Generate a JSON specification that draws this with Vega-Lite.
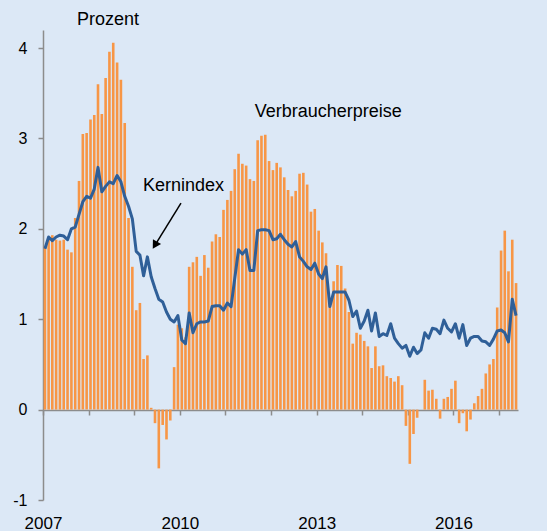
{
  "$schema": "https://vega.github.io/schema/vega-lite/v6.json",
  "autosize": {"type": "none"},
  "width": 475,
  "height": 470,
  "padding": {"left": 43, "top": 30, "right": 29, "bottom": 31},
  "background": "#dce8f6",
  "config": {"view": {"stroke": null}, "font": "Liberation Sans"},
  "datasets": {
    "m": [
      {"m":"2007-01","cpi":1.80,"core":1.78},{"m":"2007-02","cpi":1.88,"core":1.91},{"m":"2007-03","cpi":1.93,"core":1.87},{"m":"2007-04","cpi":1.88,"core":1.91},{"m":"2007-05","cpi":1.87,"core":1.93},{"m":"2007-06","cpi":1.88,"core":1.92},{"m":"2007-07","cpi":1.77,"core":1.88},{"m":"2007-08","cpi":1.74,"core":2.00},{"m":"2007-09","cpi":2.12,"core":2.02},{"m":"2007-10","cpi":2.53,"core":2.16},{"m":"2007-11","cpi":3.05,"core":2.30},{"m":"2007-12","cpi":3.06,"core":2.36},
      {"m":"2008-01","cpi":3.21,"core":2.34},{"m":"2008-02","cpi":3.26,"core":2.44},{"m":"2008-03","cpi":3.60,"core":2.68},{"m":"2008-04","cpi":3.27,"core":2.41},{"m":"2008-05","cpi":3.67,"core":2.47},{"m":"2008-06","cpi":3.96,"core":2.52},{"m":"2008-07","cpi":4.06,"core":2.50},{"m":"2008-08","cpi":3.84,"core":2.59},{"m":"2008-09","cpi":3.65,"core":2.52},{"m":"2008-10","cpi":3.17,"core":2.36},{"m":"2008-11","cpi":2.12,"core":2.25},{"m":"2008-12","cpi":1.58,"core":2.11},
      {"m":"2009-01","cpi":1.10,"core":1.75},{"m":"2009-02","cpi":1.18,"core":1.71},{"m":"2009-03","cpi":0.56,"core":1.48},{"m":"2009-04","cpi":0.60,"core":1.69},{"m":"2009-05","cpi":0.02,"core":1.47},{"m":"2009-06","cpi":-0.15,"core":1.34},{"m":"2009-07","cpi":-0.65,"core":1.22},{"m":"2009-08","cpi":-0.17,"core":1.19},{"m":"2009-09","cpi":-0.33,"core":1.08},{"m":"2009-10","cpi":-0.12,"core":1.00},{"m":"2009-11","cpi":0.47,"core":0.97},{"m":"2009-12","cpi":0.94,"core":1.04},
      {"m":"2010-01","cpi":0.90,"core":0.77},{"m":"2010-02","cpi":0.80,"core":0.73},{"m":"2010-03","cpi":1.58,"core":1.07},{"m":"2010-04","cpi":1.63,"core":0.85},{"m":"2010-05","cpi":1.69,"core":0.95},{"m":"2010-06","cpi":1.48,"core":0.97},{"m":"2010-07","cpi":1.71,"core":0.97},{"m":"2010-08","cpi":1.57,"core":0.98},{"m":"2010-09","cpi":1.86,"core":1.14},{"m":"2010-10","cpi":1.94,"core":1.15},{"m":"2010-11","cpi":1.91,"core":1.15},{"m":"2010-12","cpi":2.21,"core":1.10},
      {"m":"2011-01","cpi":2.32,"core":1.18},{"m":"2011-02","cpi":2.42,"core":1.14},{"m":"2011-03","cpi":2.66,"core":1.45},{"m":"2011-04","cpi":2.83,"core":1.77},{"m":"2011-05","cpi":2.72,"core":1.72},{"m":"2011-06","cpi":2.70,"core":1.77},{"m":"2011-07","cpi":2.55,"core":1.54},{"m":"2011-08","cpi":2.53,"core":1.54},{"m":"2011-09","cpi":2.98,"core":1.98},{"m":"2011-10","cpi":3.03,"core":1.99},{"m":"2011-11","cpi":3.04,"core":1.99},{"m":"2011-12","cpi":2.75,"core":1.98},
      {"m":"2012-01","cpi":2.65,"core":1.88},{"m":"2012-02","cpi":2.73,"core":1.89},{"m":"2012-03","cpi":2.68,"core":1.94},{"m":"2012-04","cpi":2.57,"core":1.88},{"m":"2012-05","cpi":2.43,"core":1.83},{"m":"2012-06","cpi":2.36,"core":1.80},{"m":"2012-07","cpi":2.42,"core":1.86},{"m":"2012-08","cpi":2.61,"core":1.69},{"m":"2012-09","cpi":2.62,"core":1.64},{"m":"2012-10","cpi":2.49,"core":1.58},{"m":"2012-11","cpi":2.19,"core":1.55},{"m":"2012-12","cpi":2.22,"core":1.62},
      {"m":"2013-01","cpi":1.98,"core":1.50},{"m":"2013-02","cpi":1.85,"core":1.45},{"m":"2013-03","cpi":1.73,"core":1.58},{"m":"2013-04","cpi":1.20,"core":1.14},{"m":"2013-05","cpi":1.42,"core":1.30},{"m":"2013-06","cpi":1.60,"core":1.30},{"m":"2013-07","cpi":1.59,"core":1.30},{"m":"2013-08","cpi":1.34,"core":1.30},{"m":"2013-09","cpi":1.08,"core":1.21},{"m":"2013-10","cpi":0.73,"core":1.03},{"m":"2013-11","cpi":0.85,"core":1.09},{"m":"2013-12","cpi":0.83,"core":0.90},
      {"m":"2014-01","cpi":0.76,"core":0.98},{"m":"2014-02","cpi":0.70,"core":1.10},{"m":"2014-03","cpi":0.46,"core":0.87},{"m":"2014-04","cpi":0.70,"core":1.07},{"m":"2014-05","cpi":0.48,"core":0.81},{"m":"2014-06","cpi":0.49,"core":0.84},{"m":"2014-07","cpi":0.37,"core":0.82},{"m":"2014-08","cpi":0.35,"core":0.95},{"m":"2014-09","cpi":0.31,"core":0.79},{"m":"2014-10","cpi":0.37,"core":0.73},{"m":"2014-11","cpi":0.27,"core":0.68},{"m":"2014-12","cpi":-0.18,"core":0.71},
      {"m":"2015-01","cpi":-0.60,"core":0.59},{"m":"2015-02","cpi":-0.27,"core":0.69},{"m":"2015-03","cpi":-0.09,"core":0.62},{"m":"2015-04","cpi":0.00,"core":0.66},{"m":"2015-05","cpi":0.33,"core":0.85},{"m":"2015-06","cpi":0.21,"core":0.79},{"m":"2015-07","cpi":0.22,"core":0.90},{"m":"2015-08","cpi":0.12,"core":0.89},{"m":"2015-09","cpi":-0.10,"core":0.84},{"m":"2015-10","cpi":0.12,"core":0.99},{"m":"2015-11","cpi":0.14,"core":0.90},{"m":"2015-12","cpi":0.23,"core":0.86},
      {"m":"2016-01","cpi":0.32,"core":0.95},{"m":"2016-02","cpi":-0.15,"core":0.79},{"m":"2016-03","cpi":-0.04,"core":0.94},{"m":"2016-04","cpi":-0.24,"core":0.71},{"m":"2016-05","cpi":-0.11,"core":0.79},{"m":"2016-06","cpi":0.07,"core":0.81},{"m":"2016-07","cpi":0.15,"core":0.81},{"m":"2016-08","cpi":0.23,"core":0.76},{"m":"2016-09","cpi":0.40,"core":0.75},{"m":"2016-10","cpi":0.50,"core":0.71},{"m":"2016-11","cpi":0.56,"core":0.78},{"m":"2016-12","cpi":1.13,"core":0.87},
      {"m":"2017-01","cpi":1.76,"core":0.88},{"m":"2017-02","cpi":1.98,"core":0.85},{"m":"2017-03","cpi":1.53,"core":0.75},{"m":"2017-04","cpi":1.88,"core":1.22},{"m":"2017-05","cpi":1.40,"core":1.04}
    ],
    "labels": [
      {"label":"Prozent","d":"2007-10-01","v":4.31},
      {"label":"Kernindex","d":"2009-03-11","v":2.47},
      {"label":"Verbraucherpreise","d":"2011-08-24","v":3.29}
    ],
    "arrow": [
      {"d":"2010-01-10","v":2.284,"d2":"2009-07-01","v2":1.853}
    ],
    "head": [
      {"d":"2009-06-15","v":1.82}
    ]
  },
  "layer": [
    {
      "data": {"name": "m"},
      "mark": {"type": "bar", "width": 2.6, "color": "#f79646"},
      "encoding": {
        "x": {
          "field": "m", "type": "temporal", "timeUnit": "utcyearmonth", "bandPosition": 0.5,
          "scale": {"type": "utc", "domain": [{"year": 2007, "month": 1, "date": 1, "utc": true}, {"year": 2017, "month": 6, "date": 1, "utc": true}]},
          "axis": {
            "title": null, "offset": -90, "grid": false,
            "values": [
              {"year":2007,"month":1,"date":1,"utc":true},{"year":2008,"month":1,"date":1,"utc":true},{"year":2009,"month":1,"date":1,"utc":true},{"year":2010,"month":1,"date":1,"utc":true},{"year":2011,"month":1,"date":1,"utc":true},{"year":2012,"month":1,"date":1,"utc":true},{"year":2013,"month":1,"date":1,"utc":true},{"year":2014,"month":1,"date":1,"utc":true},{"year":2015,"month":1,"date":1,"utc":true},{"year":2016,"month":1,"date":1,"utc":true},{"year":2017,"month":1,"date":1,"utc":true}
            ],
            "labelExpr": "utcyear(datum.value) % 3 == 0 ? utcFormat(datum.value, '%Y') : ''",
            "domainColor": "#8c8c8c", "domainWidth": 1.5,
            "tickColor": "#8c8c8c", "tickWidth": 1.5, "tickSize": 5,
            "labelPadding": 100, "labelFontSize": 17, "labelColor": "#000000", "labelFlush": false, "labelOverlap": false
          }
        },
        "y": {
          "field": "cpi", "type": "quantitative",
          "scale": {"domain": [-1, 4.2], "nice": false, "zero": false},
          "axis": {
            "title": null, "grid": false, "values": [-1, 0, 1, 2, 3, 4],
            "labelExpr": "datum.value < 0 ? '-' + abs(datum.value) : '' + datum.value",
            "domainColor": "#8c8c8c", "domainWidth": 1.5,
            "tickColor": "#8c8c8c", "tickWidth": 1.5, "tickSize": 5,
            "labelPadding": 11, "labelFontSize": 16, "labelColor": "#000000"
          }
        }
      }
    },
    {
      "data": {"name": "m"},
      "mark": {"type": "line", "color": "#2f5f98", "strokeWidth": 3, "strokeJoin": "round"},
      "encoding": {
        "x": {"field": "m", "type": "temporal", "timeUnit": "utcyearmonth", "bandPosition": 0.5, "scale": {"type": "utc"}},
        "y": {"field": "core", "type": "quantitative"}
      }
    },
    {
      "data": {"name": "labels"},
      "mark": {"type": "text", "align": "left", "baseline": "middle", "fontSize": 18, "color": "#000000"},
      "encoding": {
        "x": {"field": "d", "type": "temporal", "scale": {"type": "utc"}},
        "y": {"field": "v", "type": "quantitative"},
        "text": {"field": "label"}
      }
    },
    {
      "data": {"name": "arrow"},
      "mark": {"type": "rule", "color": "#000000", "strokeWidth": 1.5},
      "encoding": {
        "x": {"field": "d", "type": "temporal", "scale": {"type": "utc"}},
        "y": {"field": "v", "type": "quantitative"},
        "x2": {"field": "d2"},
        "y2": {"field": "v2"}
      }
    },
    {
      "data": {"name": "head"},
      "mark": {"type": "point", "shape": "triangle-up", "filled": true, "color": "#000000", "size": 90, "angle": 211, "opacity": 1},
      "encoding": {
        "x": {"field": "d", "type": "temporal", "scale": {"type": "utc"}},
        "y": {"field": "v", "type": "quantitative"}
      }
    }
  ]
}
